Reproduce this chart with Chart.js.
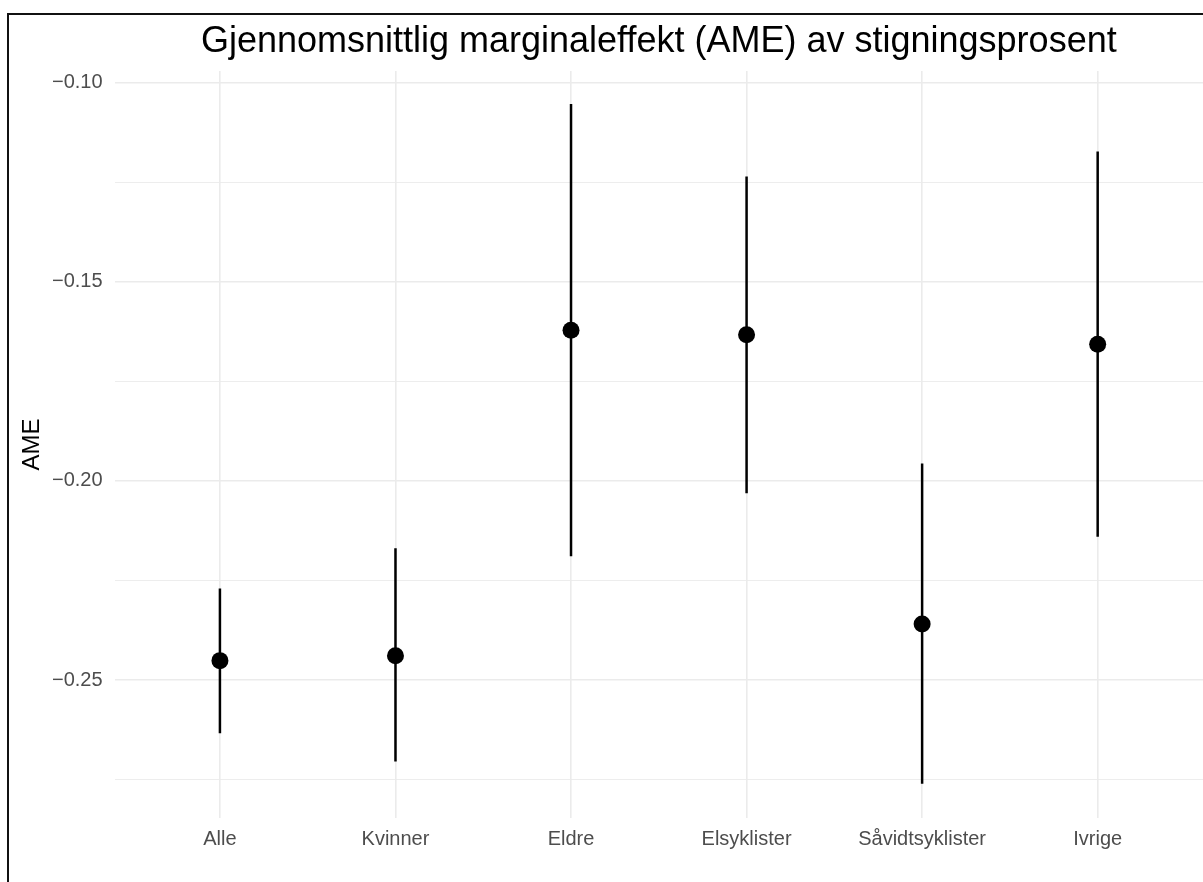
<!DOCTYPE html>
<html>
<head>
<meta charset="utf-8">
<script src="https://cdn.jsdelivr.net/npm/chart.js@4/dist/chart.umd.min.js"></script>
<style>
    html, body { margin: 0; padding: 0; background: #fff; overflow: hidden; }
    #wrap { position: relative; width: 1203px; height: 882px; overflow: hidden; }
    #ameChart { display: block; }
    #frame {
        position: absolute; left: 7px; top: 13px; width: 1300px; height: 1000px;
        border: 2px solid #111; pointer-events: none;
    }
</style>
</head>
<body>
<div id="wrap">
    <canvas id="ameChart" width="1203" height="882"></canvas>
    <div id="frame"></div>
</div>
<script>
// Groups and estimated AME with confidence interval
const categories = ['Alle', 'Kvinner', 'Eldre', 'Elsyklister', 'Såvidtsyklister', 'Ivrige'];
const ame = [-0.2451, -0.2439, -0.1622, -0.1633, -0.2359, -0.1657];
const lower = [-0.2633, -0.2704, -0.2189, -0.2031, -0.2760, -0.2140];
const upper = [-0.2270, -0.2169, -0.1054, -0.1236, -0.1956, -0.1173];

// y axis ticks (major ones get a label, minor ones only a grid line)
const yMajor = [-0.25, -0.20, -0.15, -0.10];
const yMinor = [-0.275, -0.225, -0.175, -0.125];

const FONT = '"Liberation Sans", Arial, Helvetica, sans-serif';

function isMajor(v) {
    return yMajor.some(m => Math.abs(m - v) < 1e-9);
}

// Point dataset
const pointData = categories.map((_, i) => ({ x: i, y: ame[i] }));

// Error bars as line segments broken by gaps
const barData = [];
categories.forEach((_, i) => {
    barData.push({ x: i, y: lower[i] });
    barData.push({ x: i, y: upper[i] });
    barData.push({ x: i, y: null });
});

new Chart(document.getElementById('ameChart'), {
    type: 'line',
    data: {
        datasets: [
            {
                label: 'AME',
                data: pointData,
                showLine: false,
                pointRadius: 8.5,
                pointBackgroundColor: '#000',
                pointBorderColor: '#000',
                pointBorderWidth: 0,
                order: 0
            },
            {
                label: 'KI',
                data: barData,
                borderColor: '#000',
                borderWidth: 2.5,
                pointRadius: 0,
                spanGaps: false,
                order: 1
            }
        ]
    },
    options: {
        responsive: false,
        animation: false,
        events: [],
        layout: { autoPadding: false, padding: { top: 0, left: 0, right: 0, bottom: 0 } },
        plugins: {
            legend: { display: false },
            tooltip: { enabled: false },
            title: {
                display: true,
                fullSize: false,
                text: 'Gjennomsnittlig marginaleffekt (AME) av stigningsprosent',
                color: '#000',
                font: { family: FONT, size: 36, weight: 'normal', lineHeight: 1.2 },
                padding: { top: 20, bottom: 7.8 }
            }
        },
        scales: {
            x: {
                type: 'linear',
                min: -0.6,
                max: 5.6,
                afterBuildTicks: scale => {
                    scale.ticks = categories.map((_, i) => ({ value: i }));
                },
                afterFit: scale => {
                    scale.height = 64;
                    scale.paddingLeft = 0;
                    scale.paddingRight = 0;
                },
                ticks: {
                    autoSkip: false,
                    maxRotation: 0,
                    padding: 9,
                    color: '#4d4d4d',
                    font: { family: FONT, size: 20 },
                    callback: value => categories[value]
                },
                grid: { color: '#ebebeb', lineWidth: 1.6, drawTicks: false },
                border: { display: false }
            },
            y: {
                type: 'linear',
                min: -0.2846,
                max: -0.0971,
                afterBuildTicks: scale => {
                    scale.ticks = yMinor.concat(yMajor).sort((a, b) => a - b).map(v => ({ value: v }));
                },
                afterFit: scale => {
                    scale.width = 114.6;
                    scale.paddingTop = 0;
                    scale.paddingBottom = 0;
                },
                ticks: {
                    padding: 12,
                    color: '#4d4d4d',
                    font: { family: FONT, size: 20 },
                    callback: value => isMajor(value) ? value.toFixed(2).replace('-', '\u2212') : ''
                },
                grid: {
                    color: '#ebebeb',
                    drawTicks: false,
                    lineWidth: ctx => (ctx.tick && isMajor(ctx.tick.value)) ? 1.6 : 0.9
                },
                border: { display: false },
                title: {
                    display: true,
                    text: 'AME',
                    color: '#000',
                    font: { family: FONT, size: 24, lineHeight: 1.2 },
                    padding: { top: 17.6, bottom: 0 }
                }
            }
        }
    }
});
</script>
</body>
</html>
